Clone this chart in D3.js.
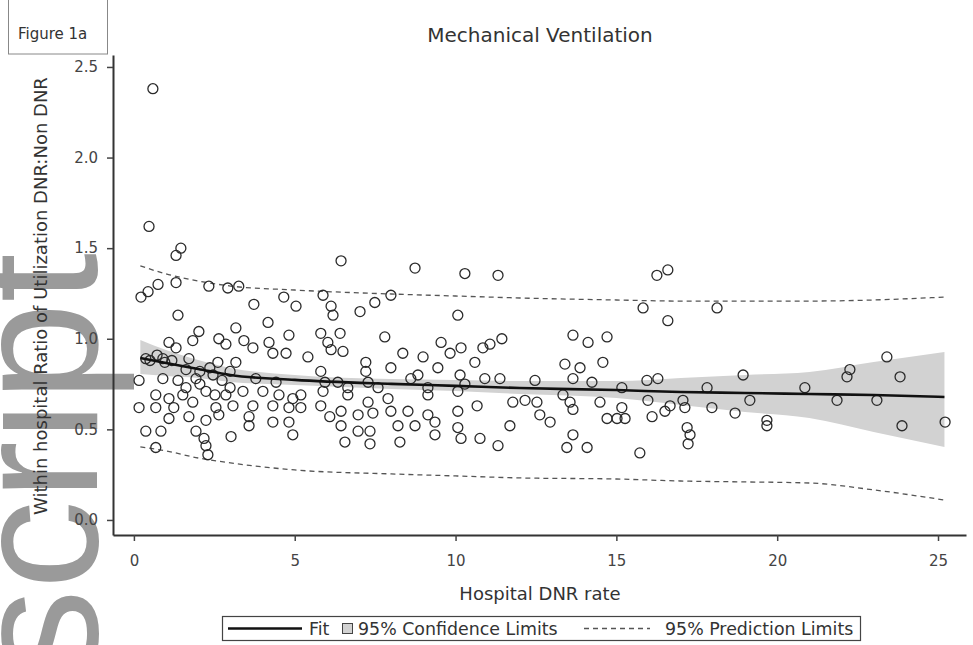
<!DOCTYPE html>
<html><head><meta charset="utf-8">
<script src="https://cdn.jsdelivr.net/npm/d3@7"></script>
<style>body{margin:0;background:#fff}svg{display:block}text{font-family:"DejaVu Sans",sans-serif}</style>
</head><body><svg id="c" width="973" height="645"></svg>
<script>
// Scatter points: [Hospital DNR rate, ratio]
const points = [
[0.59,2.38],[0.47,1.62],[1.31,1.46],[1.46,1.50],[0.22,1.23],[0.44,1.26],[0.75,1.30],[1.31,1.31],[2.33,1.29],[2.92,1.28],
[3.26,1.29],[3.73,1.19],[4.66,1.23],[5.04,1.18],[1.37,1.13],[3.17,1.06],[4.17,1.09],[4.82,1.02],[2.02,1.04],[1.09,0.98],
[1.83,0.99],[2.64,1.00],[3.42,0.99],[2.86,0.97],[3.70,0.95],[4.20,0.98],[1.31,0.95],[4.32,0.92],[4.73,0.92],[0.37,0.89],
[0.90,0.89],[1.71,0.89],[2.61,0.87],[3.17,0.87],[0.16,0.77],[1.93,0.78],[2.46,0.80],[3.79,0.78],[4.42,0.76],[0.68,0.69],
[1.09,0.67],[1.62,0.73],[2.24,0.71],[2.86,0.69],[3.39,0.71],[4.01,0.71],[4.51,0.69],[4.94,0.67],[0.16,0.62],[0.68,0.62],
[1.24,0.62],[1.83,0.65],[2.55,0.62],[3.08,0.63],[3.70,0.63],[4.32,0.63],[4.82,0.62],[1.09,0.56],[1.71,0.57],[2.24,0.55],
[2.64,0.58],[3.58,0.57],[3.58,0.52],[4.32,0.54],[4.82,0.54],[0.37,0.49],[0.84,0.49],[1.93,0.49],[2.18,0.45],[3.02,0.46],
[4.94,0.47],[0.68,0.40],[2.24,0.41],[2.30,0.36],[0.50,0.88],[0.72,0.91],[0.96,0.87],[1.18,0.88],[1.62,0.83],[2.05,0.82],
[2.36,0.84],[2.74,0.77],[2.99,0.73],[2.52,0.69],[2.05,0.75],[1.52,0.69],[0.90,0.78],[1.37,0.77],[2.99,0.82],
[6.44,1.43],[8.74,1.39],[10.29,1.36],[5.88,1.24],[6.13,1.18],[6.19,1.13],[7.03,1.15],[7.49,1.20],[7.99,1.24],[10.07,1.13],
[5.81,1.03],[6.41,1.03],[6.03,0.98],[6.13,0.94],[6.50,0.93],[7.80,1.01],[5.41,0.90],[8.36,0.92],[8.99,0.90],[9.55,0.98],
[9.83,0.92],[10.17,0.95],[7.21,0.87],[7.99,0.84],[9.45,0.84],[10.14,0.80],[5.81,0.82],[5.94,0.76],[6.34,0.76],[6.65,0.73],
[7.21,0.82],[7.28,0.76],[7.59,0.73],[8.61,0.78],[8.83,0.80],[9.14,0.73],[9.14,0.69],[10.07,0.71],[10.29,0.75],[5.19,0.62],
[5.88,0.71],[5.81,0.63],[6.09,0.57],[6.65,0.69],[6.44,0.60],[6.97,0.58],[7.28,0.65],[7.43,0.59],[7.90,0.67],[7.99,0.60],
[8.52,0.60],[9.14,0.58],[9.36,0.54],[8.21,0.52],[8.74,0.52],[6.44,0.52],[6.97,0.49],[7.34,0.49],[6.56,0.43],[7.34,0.42],
[8.27,0.43],[9.36,0.47],[10.07,0.51],[10.17,0.45],[10.07,0.60],[5.19,0.69],
[11.32,1.35],[15.83,1.17],[11.44,1.00],[11.07,0.97],[10.85,0.95],[13.65,1.02],[14.12,0.98],[14.71,1.01],[10.60,0.87],[13.40,0.86],
[13.87,0.84],[14.58,0.87],[10.91,0.78],[11.38,0.78],[12.47,0.77],[13.65,0.78],[14.24,0.76],[15.17,0.73],[10.67,0.63],[11.78,0.65],
[12.16,0.66],[12.53,0.65],[12.62,0.58],[12.94,0.54],[13.34,0.69],[13.56,0.65],[13.65,0.61],[14.49,0.65],[14.71,0.56],[15.02,0.56],
[15.27,0.56],[15.17,0.62],[11.69,0.52],[10.76,0.45],[11.32,0.41],[13.65,0.47],[13.46,0.40],[14.09,0.40],[15.73,0.37],
[16.26,1.35],[16.60,1.38],[18.13,1.17],[16.60,1.10],[15.95,0.77],[16.29,0.78],[17.82,0.73],[18.94,0.80],[20.86,0.73],[22.26,0.83],
[22.17,0.79],[23.41,0.90],[23.82,0.79],[15.98,0.66],[16.11,0.57],[16.51,0.60],[16.67,0.63],[17.07,0.66],[17.13,0.62],[17.97,0.62],
[18.69,0.59],[19.15,0.66],[17.20,0.51],[17.29,0.47],[17.23,0.42],[19.68,0.52],[19.68,0.55],[21.86,0.66],[23.10,0.66],[23.88,0.52],
[25.22,0.54]
];
// Fitted curve, confidence and prediction limits, read at these x values
const curveX  = [0.2, 1, 2, 3, 5, 8, 10, 12, 15, 17, 19, 21, 23, 25.2];
const fitY    = [0.894,0.866,0.833,0.800,0.773,0.751,0.740,0.728,0.717,0.706,0.701,0.695,0.690,0.679];
const ciUpper = [0.993,0.938,0.883,0.839,0.800,0.778,0.773,0.767,0.767,0.784,0.800,0.817,0.872,0.927];
const ciLower = [0.806,0.795,0.784,0.762,0.745,0.723,0.712,0.695,0.673,0.635,0.596,0.563,0.486,0.403];
const piUpper = [1.402,1.358,1.319,1.291,1.269,1.247,1.236,1.225,1.214,1.208,1.208,1.208,1.214,1.230];
const piLower = [0.403,0.381,0.342,0.315,0.276,0.254,0.243,0.232,0.226,0.215,0.210,0.204,0.166,0.110];
const xTicks = [0,5,10,15,20,25];
const yTicks = [0.0,0.5,1.0,1.5,2.0,2.5];
const labels = {
  title: "Mechanical Ventilation",
  figure: "Figure 1a",
  x: "Hospital DNR rate",
  y: "Within hospital Ratio of Utilization DNR:Non DNR",
  fit: "Fit",
  ci: "95% Confidence Limits",
  pi: "95% Prediction Limits",
  mark: "script"
};

const svg = d3.select("#c");
const x = d3.scaleLinear().domain([-0.65, 25.87]).range([113, 966]);
const y = d3.scaleLinear().domain([-0.083, 2.566]).range([535, 55]);

// watermark text (drawn beneath)
svg.append("text").text(labels.mark)
  .attr("transform","translate(97,253) rotate(-90)")
  .attr("text-anchor","end")
  .style("font-family","'Liberation Sans',Arial,sans-serif")
  .style("font-size","178px").attr("fill","#9a9a9a");

const curve = curveX.map((v,i)=>({x:v,f:fitY[i],cu:ciUpper[i],cl:ciLower[i],pu:piUpper[i],pl:piLower[i]}));

// CI band
svg.append("path").datum(curve)
  .attr("d", d3.area().x(d=>x(d.x)).y0(d=>y(d.cl)).y1(d=>y(d.cu)).curve(d3.curveMonotoneX))
  .attr("fill","#d2d2d2");

// prediction limits
["pu","pl"].forEach(k=>{
  svg.append("path").datum(curve)
    .attr("d", d3.line().x(d=>x(d.x)).y(d=>y(d[k])).curve(d3.curveMonotoneX))
    .attr("fill","none").attr("stroke","#555").attr("stroke-width",1.3).attr("stroke-dasharray","5,4");
});

// points
svg.append("g").selectAll("circle").data(points).join("circle")
  .attr("cx",d=>x(d[0])).attr("cy",d=>y(d[1])).attr("r",5)
  .attr("fill","none").attr("stroke","#2a2a2a").attr("stroke-width",1.3);

// fit
svg.append("path").datum(curve)
  .attr("d", d3.line().x(d=>x(d.x)).y(d=>y(d.f)).curve(d3.curveMonotoneX))
  .attr("fill","none").attr("stroke","#111").attr("stroke-width",2.6);

// axes
const ax = svg.append("g").attr("transform","translate(0,535)")
  .call(d3.axisBottom(x).tickValues(xTicks).tickSize(6).tickSizeOuter(0).tickPadding(14).tickFormat(d3.format("d")));
const ay = svg.append("g").attr("transform","translate(113,0)")
  .call(d3.axisLeft(y).tickValues(yTicks).tickSize(6).tickSizeOuter(0).tickPadding(9).tickFormat(d3.format(".1f")));
[ax,ay].forEach(g=>{
  g.select(".domain").attr("stroke","#333").attr("stroke-width",2);
  g.selectAll(".tick line").attr("stroke","#444").attr("stroke-width",1.5);
  g.selectAll(".tick text").attr("fill","#444").style("font-size","15px").style("font-family","'DejaVu Sans',sans-serif");
});

// title & labels
svg.append("text").text(labels.title).attr("x",540).attr("y",42).attr("text-anchor","middle")
  .style("font-size","20px").attr("fill","#333");
svg.append("text").text(labels.x).attr("x",540).attr("y",600).attr("text-anchor","middle")
  .style("font-size","18px").attr("fill","#333");
svg.append("text").text(labels.y).attr("transform","translate(47,296) rotate(-90)").attr("text-anchor","middle")
  .style("font-size","18px").attr("fill","#333");

// figure box
svg.append("rect").attr("x",8.5).attr("y",-1).attr("width",99).attr("height",55)
  .attr("fill","none").attr("stroke","#888").attr("stroke-width",1);
svg.append("text").text(labels.figure).attr("x",18).attr("y",39).style("font-size","15px").attr("fill","#333");

// legend
const lg = svg.append("g");
lg.append("rect").attr("x",222.5).attr("y",616.5).attr("width",638).attr("height",24)
  .attr("fill","none").attr("stroke","#444").attr("stroke-width",1.2);
lg.append("line").attr("x1",228).attr("x2",302).attr("y1",628.5).attr("y2",628.5).attr("stroke","#111").attr("stroke-width",2.6);
lg.append("text").text(labels.fit).attr("x",309).attr("y",635).style("font-size","17.4px").attr("fill","#333");
lg.append("rect").attr("x",342.5).attr("y",623.5).attr("width",10).attr("height",10).attr("fill","#d2d2d2").attr("stroke","#444");
lg.append("text").text(labels.ci).attr("x",358).attr("y",635).style("font-size","17.4px").attr("fill","#333");
lg.append("line").attr("x1",584).attr("x2",650).attr("y1",628.5).attr("y2",628.5).attr("stroke","#555").attr("stroke-width",1.3).attr("stroke-dasharray","5,4");
lg.append("text").text(labels.pi).attr("x",665).attr("y",635).style("font-size","17.4px").attr("fill","#333");
</script></body></html>
